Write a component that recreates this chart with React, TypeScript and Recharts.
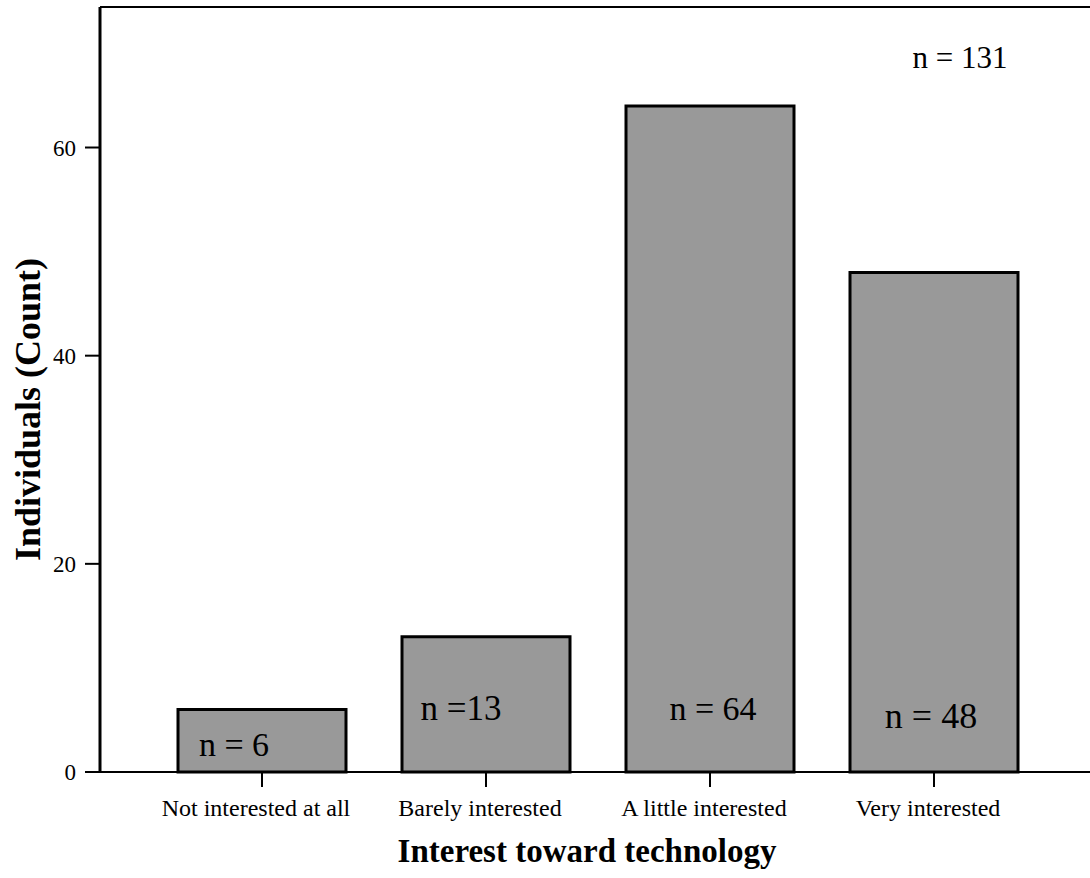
import { BarChart, Bar, XAxis, YAxis, ReferenceLine, LabelList } from 'recharts'

const categories = ['Not interested at all', 'Barely interested', 'A little interested', 'Very interested']
const counts = [6, 13, 64, 48]
const barLabels = ['n = 6', 'n =13', 'n = 64', 'n = 48']
const yTicks = [0, 20, 40, 60]
const yMax = 73.5
const totalLabel = 'n = 131'

const data = categories.map((name, i) => ({ name, count: counts[i], label: barLabels[i] }))

// where each "n = ..." sits relative to its bar (dx from bar centre, rise above the axis, font size)
const labelPlacement = [
  { dx: -28, rise: 16, size: 34 },
  { dx: -25, rise: 52, size: 35 },
  { dx: 3, rise: 52, size: 34 },
  { dx: -3, rise: 44, size: 36 }
]

const FONT = '"Liberation Serif", "Times New Roman", serif'

const renderBarLabel = (props: any) => {
  const { x, y, width, height, index, value } = props
  const p = labelPlacement[index]
  return (
    <text
      x={x + width / 2 + p.dx}
      y={y + height - p.rise}
      textAnchor='middle'
      style={{ fontFamily: FONT, fontSize: p.size }}
      fill='#000'
    >
      {value}
    </text>
  )
}

export default function App () {
  return (
    <div style={{ position: 'absolute', left: 0, top: 0, width: 1090, height: 878, background: '#fff', fontFamily: FONT }}>
      <BarChart
        width={1090}
        height={878}
        data={data}
        margin={{ top: 7, right: 0, left: 0, bottom: 0 }}
      >
        <XAxis
          dataKey='name'
          height={106}
          padding={{ left: 50, right: 44 }}
          axisLine={{ stroke: '#000', strokeWidth: 2 }}
          tickLine={{ stroke: '#000', strokeWidth: 2 }}
          tickSize={15}
          tickMargin={12}
          tick={{ fill: '#000', fontFamily: FONT, fontSize: 24, dx: -6 }}
          interval={0}
          label={(props: any) => {
            const vb = props.viewBox
            return (
              <text
                x={587}
                y={vb.y + 90}
                textAnchor='middle'
                style={{ fontFamily: FONT, fontWeight: 'bold', fontSize: 33 }}
                fill='#000'
              >
                Interest toward technology
              </text>
            )
          }}
        />
        <YAxis
          width={100}
          domain={[0, yMax]}
          ticks={yTicks}
          axisLine={{ stroke: '#000', strokeWidth: 3 }}
          tickLine={{ stroke: '#000', strokeWidth: 2 }}
          tickSize={15}
          tickMargin={9}
          tick={{ fill: '#000', fontFamily: FONT, fontSize: 23 }}
          label={(props: any) => {
            const vb = props.viewBox
            const cx = vb.x + 40
            const cy = vb.y + vb.height / 2 + 20
            return (
              <text
                x={cx}
                y={cy}
                transform={`rotate(-90 ${cx} ${cy})`}
                textAnchor='middle'
                style={{ fontFamily: FONT, fontWeight: 'bold', fontSize: 36 }}
                fill='#000'
              >
                Individuals (Count)
              </text>
            )
          }}
        />
        <ReferenceLine
          y={yMax}
          stroke='#000'
          strokeWidth={2}
          ifOverflow='visible'
          label={(props: any) => {
            const vb = props.viewBox
            return (
              <text
                x={vb.x + vb.width - 130}
                y={vb.y + 61}
                textAnchor='middle'
                style={{ fontFamily: FONT, fontSize: 31 }}
                fill='#000'
              >
                {totalLabel}
              </text>
            )
          }}
        />
        <Bar
          dataKey='count'
          fill='#999999'
          stroke='#000'
          strokeWidth={3}
          barSize={168}
          isAnimationActive={false}
        >
          <LabelList dataKey='label' content={renderBarLabel} />
        </Bar>
      </BarChart>
    </div>
  )
}
